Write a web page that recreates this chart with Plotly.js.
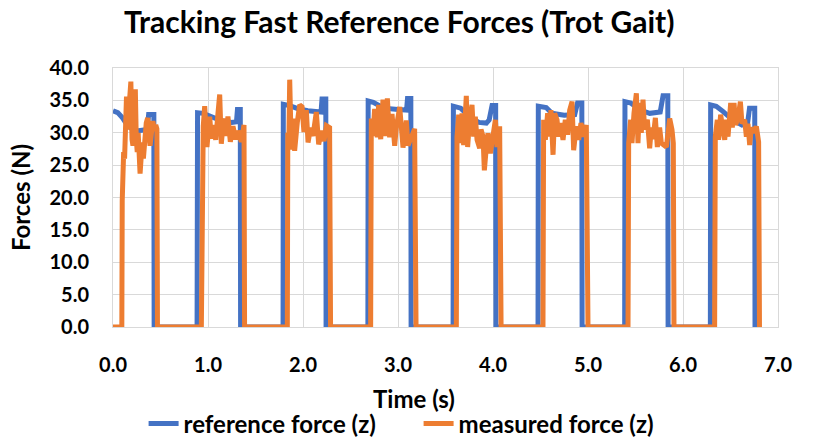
<!DOCTYPE html>
<html>
<head>
<meta charset="utf-8">
<script src="https://cdn.plot.ly/plotly-3.0.1.min.js"></script>
<style>html,body{margin:0;padding:0;background:#fff;}#chart{width:830px;height:437px;}</style>
</head>
<body>
<div id="chart"></div>
<script>
// Reference force (z), time in s, force in N
const refTime = [
  0, 0.05, 0.10, 0.15, 0.20, 0.27, 0.36, 0.375, 0.43, 0.433,
  0.885, 0.89, 0.95, 1.05, 1.15, 1.25, 1.30, 1.31, 1.34, 1.343,
  1.79, 1.793, 1.86, 1.95, 2.05, 2.19, 2.20, 2.24, 2.243,
  2.683, 2.686, 2.74, 2.85, 3.00, 3.09, 3.10, 3.135, 3.138,
  3.58, 3.583, 3.66, 3.75, 3.85, 3.93, 3.96, 3.99, 4.028, 4.031,
  4.474, 4.477, 4.56, 4.62, 4.75, 4.86, 4.89, 4.935, 4.938,
  5.386, 5.389, 5.45, 5.55, 5.65, 5.76, 5.79, 5.84, 5.843,
  6.288, 6.291, 6.35, 6.42, 6.52, 6.62, 6.68, 6.70, 6.755, 6.758
];
const refForce = [
  33.4, 33.1, 32.3, 31.2, 30.6, 30.3, 30.5, 32.8, 32.8, 0,
  0, 33.1, 33.0, 32.3, 31.8, 31.6, 31.7, 33.6, 33.6, 0,
  0, 34.4, 34.2, 33.7, 33.4, 33.2, 35.2, 35.2, 0,
  0, 34.9, 34.7, 33.8, 33.6, 33.5, 35.3, 35.3, 0,
  0, 34.1, 33.8, 32.5, 31.6, 31.5, 32.0, 34.2, 34.2, 0,
  0, 34.1, 33.9, 33.0, 32.7, 32.8, 34.6, 34.6, 0,
  0, 34.8, 34.6, 33.5, 33.0, 33.2, 35.7, 35.7, 0,
  0, 34.3, 34.1, 33.3, 32.0, 31.2, 31.5, 33.8, 33.8, 0
];

// Measured force (z)
const measTime = [
  0, 0.093, 0.097, 0.105, 0.112, 0.122, 0.13, 0.142, 0.152, 0.165, 0.188, 0.20, 0.21, 0.222, 0.235, 0.245,
  0.255, 0.265, 0.275, 0.285, 0.298, 0.31, 0.32, 0.335, 0.35, 0.365, 0.378, 0.39, 0.405, 0.42, 0.435, 0.45, 0.462, 0.468,
  0.93, 0.94, 0.95, 0.965, 0.989, 1.018, 1.035, 1.06, 1.081, 1.105, 1.123, 1.14, 1.165, 1.186, 1.21, 1.235,
  1.263, 1.291, 1.316, 1.351, 1.379, 1.385,
  1.835, 1.84, 1.85, 1.86, 1.877, 1.895, 1.912, 1.94, 1.965, 1.99, 2.01, 2.035, 2.053, 2.08, 2.105, 2.14,
  2.165, 2.193, 2.221, 2.246, 2.28, 2.29,
  2.712, 2.719, 2.737, 2.754, 2.782, 2.796, 2.818, 2.842, 2.86, 2.888, 2.912, 2.937, 2.965, 2.982, 3.018,
  3.053, 3.088, 3.105, 3.14, 3.175, 3.19,
  3.614, 3.621, 3.639, 3.656, 3.674, 3.691, 3.719, 3.733, 3.754, 3.779, 3.796, 3.814, 3.832, 3.86, 3.874,
  3.895, 3.909, 3.93, 3.947, 3.972, 4.0, 4.025, 4.042, 4.07, 4.085,
  4.526, 4.533, 4.551, 4.575, 4.596, 4.61, 4.632, 4.649, 4.674, 4.691, 4.709, 4.737, 4.761, 4.786, 4.807,
  4.832, 4.849, 4.877, 4.902, 4.926, 4.954, 4.982, 5.0,
  5.421, 5.428, 5.449, 5.463, 5.484, 5.509, 5.526, 5.544, 5.561, 5.579, 5.596, 5.625, 5.649, 5.667, 5.684,
  5.709, 5.73, 5.754, 5.772, 5.80, 5.825, 5.86, 5.884, 5.898, 5.905,
  6.333, 6.34, 6.361, 6.375, 6.396, 6.421, 6.439, 6.456, 6.474, 6.502, 6.519, 6.537, 6.554, 6.579, 6.604,
  6.621, 6.649, 6.667, 6.684, 6.702, 6.719, 6.747, 6.772, 6.796, 6.805
];
const measForce = [
  0, 0, 19.5, 24.0, 27.0, 26.0, 31.0, 35.6, 30.5, 33.5, 37.9, 29.0, 28.0, 33.0, 36.7, 29.0,
  27.0, 30.0, 25.0, 23.7, 26.5, 28.5, 26.0, 29.5, 31.5, 32.3, 30.0, 28.0, 30.0, 31.8, 30.3, 31.2, 30.6, 0,
  0, 29.0, 31.0, 34.1, 27.8, 32.5, 29.1, 31.2, 28.9, 33.0, 35.9, 28.3, 32.2, 29.5, 32.5, 28.6,
  31.0, 29.0, 30.3, 28.6, 31.2, 0,
  0, 30.0, 27.5, 38.2, 27.4, 32.2, 27.2, 31.6, 34.3, 34.0, 30.1, 33.5, 28.5, 30.8, 29.5, 33.2,
  28.2, 30.3, 28.7, 31.1, 30.8, 0,
  0, 32.2, 29.5, 33.7, 29.3, 34.3, 29.0, 35.1, 29.5, 35.3, 29.3, 32.9, 28.0, 30.8, 34.0,
  27.7, 31.9, 28.0, 29.5, 30.6, 0,
  0, 29.4, 32.8, 28.4, 33.0, 28.1, 35.7, 27.8, 32.0, 34.3, 29.4, 32.5, 28.9, 27.6, 30.5,
  29.4, 24.2, 27.8, 29.9, 26.8, 29.4, 32.0, 27.8, 31.0, 0,
  0, 32.0, 28.9, 33.0, 29.4, 33.5, 26.6, 33.0, 32.0, 29.4, 31.5, 28.9, 32.0, 29.7, 33.5,
  34.8, 27.3, 31.0, 28.9, 31.5, 29.4, 31.2, 0,
  0, 28.4, 32.0, 28.4, 33.0, 36.1, 28.4, 34.6, 30.0, 35.1, 30.5, 32.0, 27.6, 30.8, 29.0,
  32.3, 27.8, 30.8, 28.4, 28.1, 27.8, 32.2, 30.5, 28.4, 0,
  0, 29.4, 32.0, 28.9, 32.8, 30.0, 28.9, 32.0, 29.4, 34.6, 30.8, 34.6, 31.2, 32.3, 34.8,
  31.4, 32.0, 29.4, 31.4, 28.1, 30.8, 30.0, 31.0, 28.6, 0
];

const xTickVals = [0, 1, 2, 3, 4, 5, 6, 7];
const yTickVals = [0, 5, 10, 15, 20, 25, 30, 35, 40];

const FONT = 'Lato, "Open Sans", sans-serif';

const traces = [
  {
    x: refTime, y: refForce, type: 'scatter', mode: 'lines',
    name: 'reference force (z)',
    line: {color: '#4472C4', width: 5},
    cliponaxis: false
  },
  {
    x: measTime, y: measForce, type: 'scatter', mode: 'lines',
    name: 'measured force (z)',
    line: {color: '#ED7D31', width: 5},
    cliponaxis: false
  }
];

const axisCommon = {
  showgrid: true, gridcolor: '#D9D9D9', gridwidth: 1,
  zeroline: false, showline: true, mirror: true, linecolor: '#D9D9D9', linewidth: 1,
  ticks: 'outside', tickcolor: 'rgba(0,0,0,0)',
  tickformat: '.1f',
  tickfont: {family: FONT, size: 20, color: '#000', weight: 700}
};

const layout = {
  width: 830, height: 437,
  margin: {l: 113, r: 52, t: 68, b: 110},
  paper_bgcolor: '#fff', plot_bgcolor: '#fff',
  font: {family: FONT, color: '#000'},
  showlegend: true,
  title: {
    text: 'Tracking Fast Reference Forces (Trot Gait)',
    font: {family: FONT, size: 30, color: '#000', weight: 700},
    x: 0.481, xref: 'container', xanchor: 'center',
    y: 0.948, yref: 'container', yanchor: 'middle'
  },
  xaxis: Object.assign({}, axisCommon, {
    range: [0, 7], tickvals: xTickVals, ticklen: 20
  }),
  yaxis: Object.assign({}, axisCommon, {
    range: [0, 40], tickvals: yTickVals, ticklen: 19,
    title: {text: 'Forces (N)', font: {family: FONT, size: 24, color: '#000', weight: 700}, standoff: 12}
  }),
  annotations: [{
    text: 'Time (s)', showarrow: false,
    xref: 'paper', x: (414 - 113) / 666, xanchor: 'center',
    yref: 'paper', y: -(398 - 327) / 259, yanchor: 'middle',
    font: {family: FONT, size: 24, color: '#000', weight: 700}
  }],
  legend: {
    orientation: 'h',
    xref: 'container', yref: 'container',
    x: 0.173, xanchor: 'left', y: 0.03, yanchor: 'middle',
    font: {family: FONT, size: 24, color: '#000', weight: 700},
    bgcolor: 'rgba(0,0,0,0)', itemwidth: 30,
    entrywidth: 230, entrywidthmode: 'pixels'
  }
};

Plotly.newPlot('chart', traces, layout, {displayModeBar: false, staticPlot: true});
</script>
</body>
</html>
